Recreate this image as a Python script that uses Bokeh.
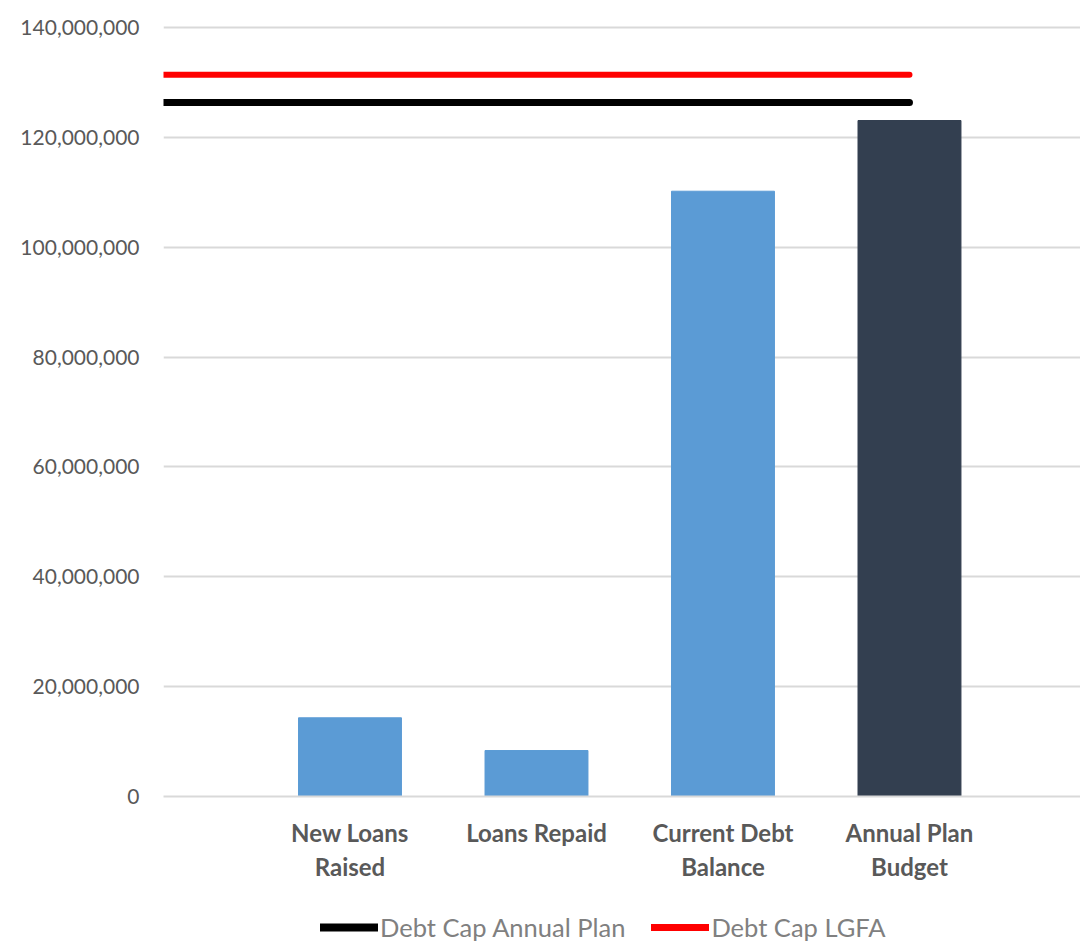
from bokeh.plotting import figure
from bokeh.layouts import column
from bokeh.models import Range1d, SingleIntervalTicker, FixedTicker, NumeralTickFormatter, Legend, LegendItem, ColumnDataSource
from bokeh.embed import file_html
from bokeh.resources import INLINE

# ---- data ----
categories = ["", "New Loans\nRaised", "Loans Repaid", "Current Debt\nBalance", "Annual Plan\nBudget"]
bar_values = [None, 14.33e6, 8.37e6, 110.2e6, 123.07e6]
bar_colors = [None, "#5b9bd5", "#5b9bd5", "#5b9bd5", "#333f50"]
cap_annual_plan = [126.35e6] * 5
cap_lgfa = [131.4e6] * 5
series_names = ["Debt Cap Annual Plan", "Debt Cap LGFA"]
series_colors = ["black", "#ff0000"]
series_widths = [7, 6]

xs = list(range(len(categories)))
bar_x = [x for x, v in zip(xs, bar_values) if v is not None]
bar_top = [v for v in bar_values if v is not None]
bar_col = [c for c, v in zip(bar_colors, bar_values) if v is not None]

FONT = "Lato"

p = figure(frame_width=917, frame_height=772, output_backend="svg", toolbar_location=None,
           x_range=Range1d(0, 4.917), y_range=Range1d(0, 140.55e6),
           min_border_left=163, min_border_right=0, min_border_top=24, min_border_bottom=114)
p.outline_line_color = None
p.background_fill_color = "white"

src = ColumnDataSource(dict(x=bar_x, top=bar_top, color=bar_col))
p.vbar(x="x", top="top", bottom=0, width=0.552, color="color", source=src)

for vals, col, lw in zip([cap_annual_plan, cap_lgfa], series_colors, series_widths):
    p.line(xs, vals, line_color=col, line_width=lw, line_cap="round")

# y axis
p.yaxis.ticker = SingleIntervalTicker(interval=20e6)
p.yaxis.formatter = NumeralTickFormatter(format="0,0")
p.yaxis.axis_line_color = None
p.yaxis.major_tick_line_color = None
p.yaxis.minor_tick_line_color = None
p.yaxis.major_label_text_font = FONT
p.yaxis.major_label_text_font_size = "21px"
p.yaxis.major_label_text_color = "#595959"
p.yaxis.major_label_standoff = 18

# x axis
p.xaxis.ticker = FixedTicker(ticks=xs[1:])
p.xaxis.major_label_overrides = {x: c for x, c in zip(xs, categories) if c}
p.xaxis.axis_line_color = "#d9d9d9"
p.xaxis.axis_line_width = 2
p.xaxis.major_tick_line_color = None
p.xaxis.minor_tick_line_color = None
p.xaxis.major_label_text_font = FONT
p.xaxis.major_label_text_font_style = "bold"
p.xaxis.major_label_text_font_size = "24px"
p.xaxis.major_label_text_color = "#595959"
p.xaxis.major_label_standoff = 15

p.xgrid.grid_line_color = None
p.ygrid.grid_line_color = "#d9d9d9"
p.ygrid.grid_line_width = 2

# legend strip below the chart (its frame is aligned with the main frame)
lg = figure(width=1080, height=32, output_backend="svg", toolbar_location=None,
            x_range=Range1d(0, 1), y_range=Range1d(0, 1),
            min_border_left=0, min_border_right=0, min_border_top=0, min_border_bottom=0)
lg.axis.visible = False
lg.grid.visible = False
lg.outline_line_color = None
items = []
for name, col, lw in zip(series_names, series_colors, series_widths):
    # proxy line kept outside the visible range; only its legend swatch shows
    r = lg.line([5, 6], [5, 5], line_color=col, line_width=lw + 1, line_cap="round")
    items.append(LegendItem(label=name, renderers=[r]))
legend = Legend(items=items, orientation="horizontal", location=(157, 0),
                glyph_width=58, glyph_height=26, label_standoff=2, spacing=26,
                padding=0, margin=0, border_line_color=None, background_fill_alpha=0,
                label_text_font=FONT, label_text_font_size="25.5px", label_text_color="#808080")
lg.add_layout(legend)

open("out.html", "w").write(file_html(column(p, lg, spacing=0), INLINE))
